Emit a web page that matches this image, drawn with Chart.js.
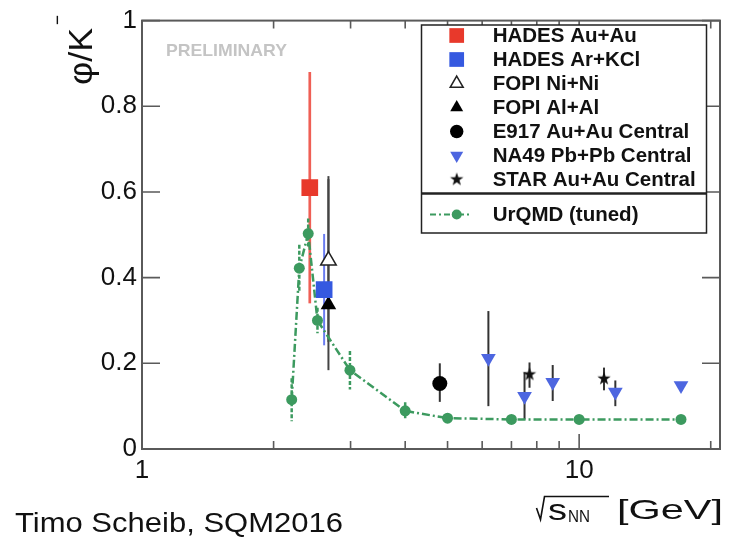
<!DOCTYPE html>
<html>
<head>
<meta charset="utf-8">
<script src="https://cdn.jsdelivr.net/npm/chart.js@4.4.0/dist/chart.umd.min.js"></script>
<style>
  html, body { margin: 0; padding: 0; background: #fff; }
</style>
</head>
<body>
<canvas id="chart" width="734" height="546"></canvas>
<script>
// values (x = sqrt(s_NN) in GeV, y = phi/K-)
const hadesAuX = [2.42], hadesAuY = [0.61], hadesAuUp = [0.27], hadesAuDn = [0.27];
const hadesArX = [2.61], hadesArY = [0.372], hadesArUp = [0.13], hadesArDn = [0.13];
const fopiNiX = [2.67], fopiNiY = [0.44], fopiNiUp = [0.19], fopiNiDn = [0.19];
const fopiAlX = [2.67], fopiAlY = [0.337], fopiAlUp = [0.30], fopiAlDn = [0.153];
const e917X = [4.8], e917Y = [0.153], e917Up = [0.047], e917Dn = [0.043];
const na49X = [6.2, 7.5, 8.7, 12.1, 17.1];
const na49Y = [0.212, 0.123, 0.156, 0.133, 0.148];
const na49Up = [0.11, 0.056, 0.04, 0.027, 0];
const na49Dn = [0.112, 0.054, 0.044, 0.033, 0];
const starX = [7.7, 11.4], starY = [0.174, 0.164], starUp = [0.028, 0.026], starDn = [0.031, 0.027];
const urqmdX = [2.2, 2.29, 2.4, 2.52, 2.99, 4.0, 5.0, 7.0, 10.0, 17.1];
const urqmdY = [0.115, 0.422, 0.503, 0.300, 0.184, 0.089, 0.072, 0.069, 0.069, 0.069];
const urqmdErr = [0.05, 0.055, 0.035, 0.03, 0.045, 0.02, 0, 0, 0, 0];

const xTickVals = [1, 10];
const xTickLabels = ['1', '10'];
const xMinorVals = [2, 3, 4, 5, 6, 7, 8, 9, 20];
const yTickVals = [0, 0.2, 0.4, 0.6, 0.8, 1];
const yTickLabels = ['0', '0.2', '0.4', '0.6', '0.8', '1'];

const GREEN = '#3c9a5f';

function pts(xs, ys) {
  return xs.map((x, i) => ({ x: x, y: ys[i] }));
}

// 5 point star, chart.js has no such pointStyle
function makeStar(size, rOut, rIn, color) {
  const c = document.createElement('canvas');
  c.width = c.height = size;
  const g = c.getContext('2d');
  g.fillStyle = color;
  g.beginPath();
  for (let i = 0; i < 10; i++) {
    const r = i % 2 ? rIn : rOut;
    const a = -Math.PI / 2 + i * Math.PI / 5;
    g.lineTo(size / 2 + r * Math.cos(a), size / 2 + r * Math.sin(a));
  }
  g.closePath();
  g.fill();
  return c;
}
const starImg = makeStar(16, 7, 2.8, '#111');

const datasets = [
  { label: 'HADES Au+Au', data: pts(hadesAuX, hadesAuY), errUp: hadesAuUp, errDn: hadesAuDn,
    errColor: '#ef5f55', errWidth: 2.7, pointStyle: 'rect', pointRadius: 11.8,
    backgroundColor: '#e8392b', borderColor: '#e8392b', pointBorderWidth: 0, legendRadius: 10.4 },
  { label: 'HADES Ar+KCl', data: pts(hadesArX, hadesArY), errUp: hadesArUp, errDn: hadesArDn,
    errColor: '#6a7cf0', errWidth: 2, pointStyle: 'rect', pointRadius: 11.8,
    backgroundColor: '#3559e0', borderColor: '#3559e0', pointBorderWidth: 0, legendRadius: 10.4 },
  { label: 'FOPI Ni+Ni', data: pts(fopiNiX, fopiNiY), errUp: fopiNiUp, errDn: fopiNiDn,
    errColor: '#444', errWidth: 2, pointStyle: 'triangle', pointRadius: 9,
    backgroundColor: '#fff', borderColor: '#222', pointBorderWidth: 1.5, legendRadius: 7.5 },
  { label: 'FOPI Al+Al', data: pts(fopiAlX, fopiAlY), errUp: fopiAlUp, errDn: fopiAlDn,
    errColor: '#444', errWidth: 2, pointStyle: 'triangle', pointRadius: 9,
    backgroundColor: '#000', borderColor: '#000', pointBorderWidth: 0, legendRadius: 7.5 },
  { label: 'E917 Au+Au Central', data: pts(e917X, e917Y), errUp: e917Up, errDn: e917Dn,
    errColor: '#333', errWidth: 2, pointStyle: 'circle', pointRadius: 7.5,
    backgroundColor: '#000', borderColor: '#000', pointBorderWidth: 0, legendRadius: 6.7 },
  { label: 'NA49 Pb+Pb Central', data: pts(na49X, na49Y), errUp: na49Up, errDn: na49Dn,
    errColor: '#333', errWidth: 2, pointStyle: 'triangle', rotation: 180, pointRadius: 8.5,
    backgroundColor: '#4d66e0', borderColor: '#4d66e0', pointBorderWidth: 0, legendRadius: 7.5 },
  { label: 'STAR Au+Au Central', data: pts(starX, starY), errUp: starUp, errDn: starDn,
    errColor: '#333', errWidth: 2, pointStyle: starImg, pointRadius: 7,
    backgroundColor: '#111', borderColor: '#111', pointBorderWidth: 0, legendRadius: 6 },
  { label: 'UrQMD (tuned)', data: pts(urqmdX, urqmdY), errUp: urqmdErr, errDn: urqmdErr,
    errColor: GREEN, errWidth: 2.5, errDash: [4, 2], showLine: true, tension: 0,
    borderColor: GREEN, borderWidth: 2.5, borderDash: [8, 3, 2, 3],
    pointStyle: 'circle', pointRadius: 5.5, backgroundColor: GREEN, pointBorderWidth: 0, legendRadius: 5 }
];

// error bars under the markers
const errorBars = {
  id: 'errorBars',
  beforeDatasetsDraw(chart) {
    const ctx = chart.ctx, y = chart.scales.y;
    chart.data.datasets.forEach((ds, i) => {
      const meta = chart.getDatasetMeta(i);
      ctx.save();
      ctx.strokeStyle = ds.errColor;
      ctx.lineWidth = ds.errWidth;
      ctx.setLineDash(ds.errDash || []);
      ds.data.forEach((p, j) => {
        const up = ds.errUp[j], dn = ds.errDn[j];
        if (!up && !dn) return;
        const px = meta.data[j].x;
        ctx.beginPath();
        ctx.moveTo(px, y.getPixelForValue(p.y + up));
        ctx.lineTo(px, y.getPixelForValue(p.y - dn));
        ctx.stroke();
      });
      ctx.restore();
    });
  }
};

// box round the plot with inward ticks
const frame = {
  id: 'frame',
  beforeDatasetsDraw(chart) {
    const { ctx, chartArea: a, scales: { x, y } } = chart;
    ctx.save();
    ctx.strokeStyle = '#5a5a5a';
    ctx.lineWidth = 2;
    ctx.strokeRect(a.left, a.top, a.right - a.left, a.bottom - a.top);
    ctx.lineWidth = 1.6;
    ctx.beginPath();
    yTickVals.forEach(v => {
      const py = y.getPixelForValue(v);
      ctx.moveTo(a.left, py); ctx.lineTo(a.left + 18, py);
      ctx.moveTo(a.right, py); ctx.lineTo(a.right - 18, py);
    });
    xTickVals.forEach(v => {
      const px = x.getPixelForValue(v);
      ctx.moveTo(px, a.bottom); ctx.lineTo(px, a.bottom - 15);
      ctx.moveTo(px, a.top); ctx.lineTo(px, a.top + 15);
    });
    xMinorVals.forEach(v => {
      const px = x.getPixelForValue(v);
      ctx.moveTo(px, a.bottom); ctx.lineTo(px, a.bottom - 8);
      ctx.moveTo(px, a.top); ctx.lineTo(px, a.top + 8);
    });
    ctx.stroke();
    ctx.restore();
  }
};

// text stretched to a given width
function fitText(ctx, str, x, y, font, width) {
  ctx.save();
  ctx.font = font;
  const w = ctx.measureText(str).width;
  ctx.translate(x, y);
  ctx.scale(width / w, 1);
  ctx.fillText(str, 0, 0);
  ctx.restore();
}

const extras = {
  id: 'extras',
  afterDraw(chart) {
    const ctx = chart.ctx;
    ctx.save();
    ctx.textBaseline = 'alphabetic';
    ctx.textAlign = 'left';

    ctx.fillStyle = '#c4c4c4';
    fitText(ctx, 'PRELIMINARY', 166, 56, 'bold 17px "Liberation Sans", Arial', 121);

    ctx.fillStyle = '#111';
    fitText(ctx, 'Timo Scheib, SQM2016', 15, 532, '27px "Liberation Sans", Arial', 328);

    // x title: sqrt(s_NN) [GeV]
    ctx.strokeStyle = '#111';
    ctx.lineWidth = 1.6;
    ctx.beginPath();
    ctx.moveTo(536.5, 508); ctx.lineTo(540.5, 519.5); ctx.lineTo(544.5, 496.5); ctx.lineTo(609, 496.5);
    ctx.stroke();
    fitText(ctx, 's', 548, 519.5, '30px "Liberation Sans", Arial', 19);
    fitText(ctx, 'NN', 568, 522, '17px "Liberation Sans", Arial', 22);
    fitText(ctx, '[GeV]', 617, 519, '28px "Liberation Sans", Arial', 106);

    // y title: phi/K-
    ctx.save();
    ctx.translate(92, 85);
    ctx.rotate(-Math.PI / 2);
    fitText(ctx, 'φ/K', 0, 0, '34px "Liberation Sans", Arial', 57);
    fitText(ctx, '−', 60, -28, '20px "Liberation Sans", Arial', 10);
    ctx.restore();

    // legend box
    const bx = 421.5, by = 25, bw = 285, bh = 208;
    ctx.fillStyle = '#fff';
    ctx.fillRect(bx, by, bw, bh);
    ctx.strokeStyle = '#222';
    ctx.lineWidth = 1.5;
    ctx.strokeRect(bx, by, bw, bh);
    ctx.lineWidth = 2.5;
    ctx.beginPath();
    ctx.moveTo(bx, 193.5); ctx.lineTo(bx + bw, 193.5);
    ctx.stroke();

    const mx = 456.7, tx = 492.7;
    ctx.font = 'bold 20.5px "Liberation Sans", Arial';
    ctx.textBaseline = 'middle';
    chart.data.datasets.forEach((ds, i) => {
      const last = i === chart.data.datasets.length - 1;
      const ry = last ? 214.5 : 35.5 + i * 24;
      if (last) {
        ctx.save();
        ctx.strokeStyle = GREEN;
        ctx.lineWidth = 2;
        ctx.setLineDash([6, 3, 2, 3]);
        ctx.beginPath();
        ctx.moveTo(430, ry); ctx.lineTo(472, ry);
        ctx.stroke();
        ctx.restore();
      }
      ctx.save();
      ctx.fillStyle = ds.backgroundColor;
      ctx.strokeStyle = ds.borderColor;
      ctx.lineWidth = ds.pointBorderWidth;
      Chart.helpers.drawPoint(ctx, {
        pointStyle: ds.pointStyle, rotation: ds.rotation || 0,
        radius: ds.legendRadius, borderWidth: ds.pointBorderWidth
      }, mx, ry);
      ctx.restore();
      ctx.fillStyle = '#111';
      ctx.fillText(ds.label, tx, ry + 1);
    });
    ctx.restore();
  }
};

const tickFont = { family: '"Liberation Sans", Arial', size: 26 };

new Chart(document.getElementById('chart'), {
  type: 'scatter',
  data: { datasets: datasets },
  options: {
    responsive: false,
    animation: false,
    layout: { padding: { left: 0, right: 14, top: 17, bottom: 0 } },
    plugins: { legend: { display: false }, tooltip: { enabled: false } },
    scales: {
      x: {
        type: 'logarithmic', min: 1, max: 21,
        grid: { display: false, drawTicks: false },
        border: { display: false },
        ticks: { font: tickFont, color: '#111', padding: 6, maxRotation: 0, autoSkip: false,
                 callback: (v, i) => xTickLabels[i] },
        afterBuildTicks: s => { s.ticks = xTickVals.map(v => ({ value: v })); },
        afterFit: s => { s.height = 97; }
      },
      y: {
        min: 0, max: 1,
        grid: { display: false, drawTicks: false },
        border: { display: false },
        ticks: { font: tickFont, color: '#111', padding: 5, callback: (v, i) => yTickLabels[i] },
        afterBuildTicks: s => { s.ticks = yTickVals.map(v => ({ value: v })); },
        afterFit: s => { s.width = 142; }
      }
    }
  },
  plugins: [frame, errorBars, extras]
});
</script>
</body>
</html>
